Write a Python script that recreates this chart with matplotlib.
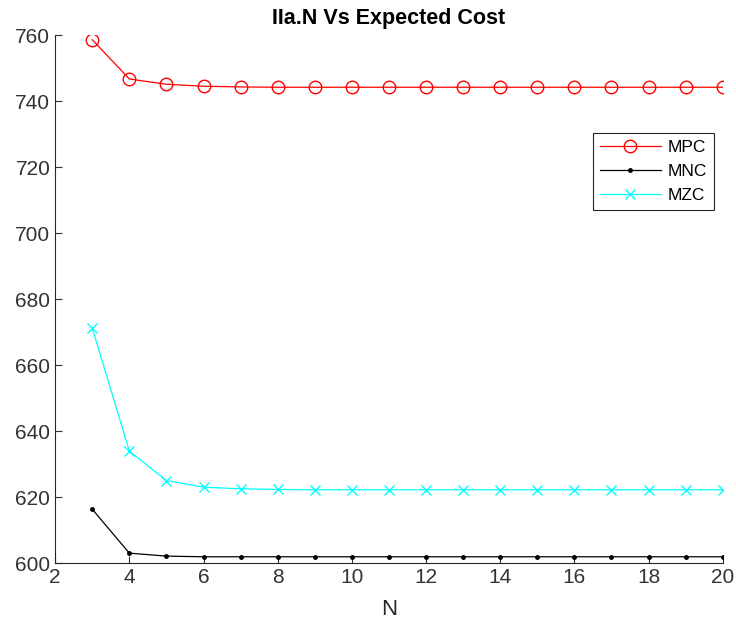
import matplotlib
matplotlib.use('Agg')
import matplotlib.pyplot as plt

plt.rcParams['font.family'] = ['Liberation Sans', 'DejaVu Sans']

n = list(range(3, 21))
mpc = [758.6, 746.7, 745.1, 744.5, 744.3, 744.2, 744.2, 744.2, 744.2,
       744.2, 744.2, 744.2, 744.2, 744.2, 744.2, 744.2, 744.2, 744.2]
mnc = [616.3, 603.0, 602.1, 601.9, 601.9, 601.9, 601.9, 601.9, 601.9,
       601.9, 601.9, 601.9, 601.9, 601.9, 601.9, 601.9, 601.9, 601.9]
mzc = [671.2, 633.9, 625.0, 623.0, 622.5, 622.3, 622.2, 622.2, 622.2,
       622.2, 622.2, 622.2, 622.2, 622.2, 622.2, 622.2, 622.2, 622.2]

fig = plt.figure(figsize=(7.36, 6.27), dpi=100)
ax = fig.add_axes([0.075, 0.102, 0.907, 0.842])

ax.plot(n, mpc, color='red', marker='o', markersize=9, markerfacecolor='none',
        linewidth=0.9, label='MPC')
ax.plot(n, mnc, color='black', marker='.', markersize=5, linewidth=0.9, label='MNC')
ax.plot(n, mzc, color='cyan', marker='x', markersize=7, linewidth=0.9, label='MZC')

ax.set_xlim(2, 20)
ax.set_ylim(600, 760)
ax.set_xticks(range(2, 21, 2))
ax.set_yticks(range(600, 761, 20))
ax.spines['top'].set_visible(False)
ax.spines['right'].set_visible(False)
for s in ['left', 'bottom']:
    ax.spines[s].set_color('#262626')
    ax.spines[s].set_linewidth(0.8)
ax.tick_params(direction='in', labelsize=15, colors='#333333', length=5)

ax.set_xlabel('N', fontsize=16, color='#262626', labelpad=9)
ax.set_title('IIa.N Vs Expected Cost', fontsize=15.5, fontweight='bold', pad=8)

leg = ax.legend(loc='upper right', bbox_to_anchor=(1.0, 0.831), fontsize=12.5,
                fancybox=False, framealpha=1, edgecolor='#262626',
                handlelength=3.5, borderpad=0.4, labelspacing=0.5, handletextpad=0.4)
leg.get_frame().set_linewidth(0.8)

fig.savefig('out.png', dpi=100)
